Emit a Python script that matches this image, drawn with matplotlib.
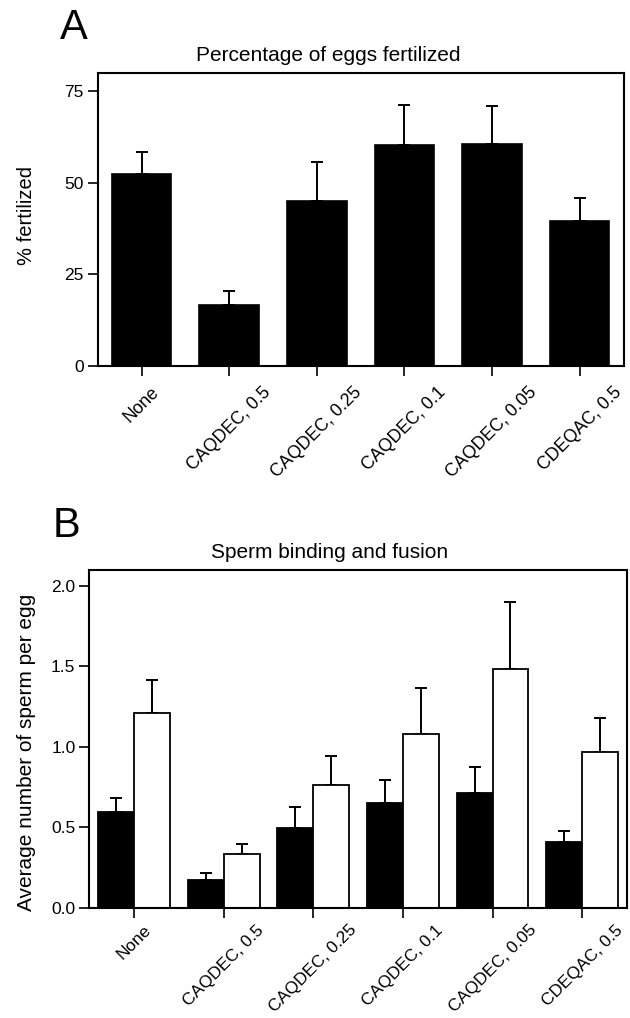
import numpy as np
import matplotlib
matplotlib.use('Agg')
import matplotlib.pyplot as plt

plt.rcParams['font.family'] = ['Liberation Sans', 'DejaVu Sans']

# treatments (peptide, concentration)
labels = ['None', 'CAQDEC, 0.5', 'CAQDEC, 0.25', 'CAQDEC, 0.1', 'CAQDEC, 0.05', 'CDEQAC, 0.5']

# panel A - % of eggs fertilized (mean, upper error)
fert_mean = [52.4, 16.6, 45.1, 60.2, 60.6, 39.6]
fert_err = [6.0, 3.8, 10.4, 11.1, 10.3, 6.3]

# panel B - sperm per egg, black = bound/fused, white = total
black_mean = [0.594, 0.172, 0.497, 0.648, 0.712, 0.410]
black_err = [0.087, 0.041, 0.132, 0.143, 0.166, 0.066]
white_mean = [1.211, 0.335, 0.766, 1.081, 1.482, 0.969]
white_err = [0.207, 0.063, 0.178, 0.288, 0.421, 0.209]

x = np.arange(len(labels))
W, H = 630, 1018
fig = plt.figure(figsize=(W/100, H/100), dpi=100)

def style_axes(ax, xsize, xpad):
    for s in ax.spines.values():
        s.set_linewidth(1.5)
    ax.tick_params(axis='y', length=7, width=1.2, labelsize=12.5, pad=3)
    ax.tick_params(axis='x', length=7, width=1.2, labelsize=xsize, pad=xpad)
    ax.set_xticks(x)
    ax.set_xticklabels(labels, rotation=45, ha='center')
    ax.set_xlim(-0.5, len(labels) - 0.5)

# ---- panel A
ax1 = fig.add_axes([97.7/W, 1 - 365.7/H, (623.5 - 97.7)/W, (365.7 - 72.7)/H])
ax1.bar(x, fert_mean, width=0.68, color='black', edgecolor='black', linewidth=1.2, zorder=2)
ax1.errorbar(x, fert_mean, yerr=[np.zeros(len(x)), fert_err], fmt='none', ecolor='black',
             elinewidth=1.4, capsize=4.5, capthick=1.4, zorder=1)
ax1.set_ylim(0, 80)
ax1.set_yticks([0, 25, 50, 75])
style_axes(ax1, 12.8, 6)

fig.text(60/W, 1 - 39/H, 'A', fontsize=30, va='baseline', ha='left')
fig.text(328/W, 1 - 61/H, 'Percentage of eggs fertilized', fontsize=15, va='baseline', ha='center')
fig.text(27/W, 1 - 215.5/H, '% fertilized', fontsize=14.5, rotation=90, va='center', ha='center')

# ---- panel B
ax2 = fig.add_axes([89.3/W, 1 - 907.7/H, (627 - 89.3)/W, (907.7 - 570)/H])
ax2.bar(x - 0.2, black_mean, width=0.4, color='black', edgecolor='black', linewidth=1.3, zorder=2)
ax2.bar(x + 0.2, white_mean, width=0.4, color='white', edgecolor='black', linewidth=1.3, zorder=2)
ax2.errorbar(x - 0.2, black_mean, yerr=[np.zeros(len(x)), black_err], fmt='none', ecolor='black',
             elinewidth=1.4, capsize=4.5, capthick=1.4, zorder=1)
ax2.errorbar(x + 0.2, white_mean, yerr=[np.zeros(len(x)), white_err], fmt='none', ecolor='black',
             elinewidth=1.4, capsize=4.5, capthick=1.4, zorder=1)
ax2.set_ylim(0, 2.1)
ax2.set_yticks([0, 0.5, 1.0, 1.5, 2.0])
ax2.set_yticklabels(['0.0', '0.5', '1.0', '1.5', '2.0'])
style_axes(ax2, 12.4, 3.5)

fig.text(53/W, 1 - 537/H, 'B', fontsize=30, va='baseline', ha='left')
fig.text(330/W, 1 - 558/H, 'Sperm binding and fusion', fontsize=15, va='baseline', ha='center')
fig.text(27/W, 1 - 752/H, 'Average number of sperm per egg', fontsize=15, rotation=90, va='center', ha='center')

fig.savefig('out.png', dpi=100)
